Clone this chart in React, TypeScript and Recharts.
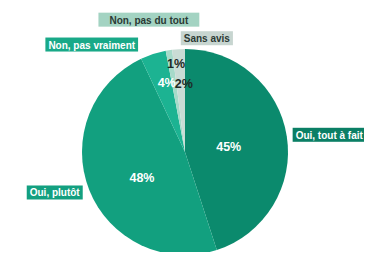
import React from "react";
import { PieChart, Pie, Cell } from "recharts";

const categories = ["Oui, tout à fait", "Oui, plutôt", "Non, pas vraiment", "Non, pas du tout", "Sans avis"];
const values = [45, 48, 4, 1, 2];
const sliceColors = ["#0b8a6d", "#12a07f", "#1cb392", "#a6dac9", "#c9dcd5"];
const boxColors = ["#0b7f65", "#13a080", "#19a988", "#a3d3c2", "#c7d5d0"];
const boxText = ["#ffffff", "#ffffff", "#ffffff", "#2b3a35", "#2b3a35"];
const pctColors = ["#ffffff", "#ffffff", "#ffffff", "#1e2a26", "#1e2a26"];

// label layout (style only)
const pctRadius = [0.43, 0.47, 0.7, 0.86, 0.66];
const pctDx = [0, 2, 4, 5, 3];
const pctDy = [2, 8, 0, -1, 0];
const catRadius = [110, 110, 113, 135, 115];
const catAnchor = ["start", "end", "end", "middle", "start"];
const catDx = [-1, 0, -12, -15, 3];
const catDy = [0, 0, 0, 1, 1];
const catPad = [3, 3, 3, 11, 3];

const data = categories.map((name, i) => ({ name, value: values[i] }));

const FONT = "bold 10px 'Liberation Sans', Arial, sans-serif";
let ctx: CanvasRenderingContext2D | null = null;
function measure(t: string): number {
  if (!ctx) ctx = document.createElement("canvas").getContext("2d");
  if (!ctx) return t.length * 6;
  ctx.font = FONT;
  return ctx.measureText(t).width;
}

const RAD = Math.PI / 180;

function renderLabel(props: any) {
  const { cx, cy, midAngle, outerRadius, index, value } = props;
  const rp = outerRadius * pctRadius[index];
  const px = cx + rp * Math.cos(-midAngle * RAD) + pctDx[index];
  const py = cy + rp * Math.sin(-midAngle * RAD) + pctDy[index];
  const rc = catRadius[index];
  const bx = cx + rc * Math.cos(-midAngle * RAD) + catDx[index];
  const by = cy + rc * Math.sin(-midAngle * RAD) + catDy[index];
  const name = categories[index];
  const w = measure(name) + 2 * catPad[index];
  const h = 14;
  let left = bx;
  if (catAnchor[index] === "end") left = bx - w;
  else if (catAnchor[index] === "middle") left = bx - w / 2;
  return (
    <g key={`l-${index}`}>
      <text
        x={px}
        y={py}
        textAnchor="middle"
        dominantBaseline="central"
        fill={pctColors[index]}
        style={{ font: "bold 12.5px 'Liberation Sans', Arial, sans-serif" }}
      >
        {`${value}%`}
      </text>
      <rect x={left} y={by - h / 2} width={w} height={h} fill={boxColors[index]} />
      <text
        x={left + w / 2}
        y={by + 0.5}
        textAnchor="middle"
        dominantBaseline="central"
        fill={boxText[index]}
        style={{ font: FONT }}
      >
        {name}
      </text>
    </g>
  );
}

export default function App() {
  return (
    <div style={{ width: 372, height: 260, background: "#fff", margin: -8 }}>
      <PieChart width={372} height={260} margin={{ top: 0, right: 0, bottom: 0, left: 0 }}>
        <Pie
          data={data}
          dataKey="value"
          nameKey="name"
          cx={185}
          cy={152}
          outerRadius={103}
          startAngle={90}
          endAngle={-270}
          stroke="none"
          label={renderLabel}
          labelLine={false}
          isAnimationActive={false}
        >
          {data.map((d, i) => (
            <Cell key={d.name} fill={sliceColors[i]} />
          ))}
        </Pie>
      </PieChart>
    </div>
  );
}
